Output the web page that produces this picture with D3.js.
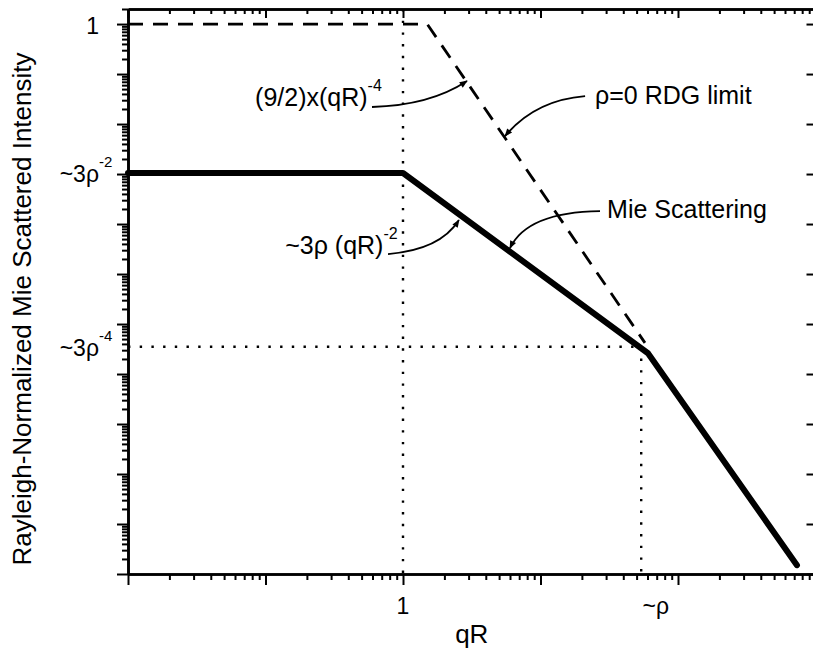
<!DOCTYPE html>
<html>
<head>
<meta charset="utf-8">
<script src="https://cdn.jsdelivr.net/npm/d3@7"></script>
<style>
  body { margin: 0; background: #fff; }
  text { font-family: Arial, "Liberation Sans", Helvetica, sans-serif; fill: #000; }
</style>
</head>
<body>
<div id="wrapper"></div>
<script>
// Mie scattering curve (solid) and the rho=0 RDG limit (dashed)
const mieQR = [0.01, 1, 60.5, 733];
const mieI = [1.05e-3, 1.05e-3, 2.6e-7, 1.5e-11];
const rdgQR = [0.01, 1.5, 57.5];
const rdgI = [1, 1, 4.2e-7];

// guide lines
const qrOne = 1;
const rhoQR = 54;
const rhoI = 3.5e-7;

// tick labels
const yTickVals = [1, 1.05e-3, 3.5e-7];
const yTickMain = ["1", "~3ρ", "~3ρ"];
const yTickSup = ["", "-2", "-4"];
const xTickVals = [1, 69];
const xTickText = ["1", "~ρ"];

// annotations (text anchor, in data units)
const annText = ["(9/2)x(qR)", "ρ=0 RDG limit", "Mie Scattering", "~3ρ (qR)"];
const annSup = ["-4", "", "", "-2"];
const annQR = [0.084, 24.9, 30.5, 0.139];
const annI = [0.0229, 0.0251, 1.32e-4, 2.5e-5];

// curved arrows: start, control, end (data units)
const arrowQR = [[0.595, 1.57, 2.92], [21.1, 9.12, 5.52], [27.1, 8.0, 6.0], [0.778, 1.86, 2.55]];
const arrowI = [[0.0219, 0.0235, 0.0724], [0.0363, 0.0302, 5.75e-3], [1.82e-4, 1.74e-4, 3.31e-5], [2.51e-5, 3.02e-5, 1.2e-4]];

let dimensions = {
	width: 813,
	height: 649,
	margin: { top: 9, right: -2.5, bottom: 75, left: 128 }
};

const plotLeft = dimensions.margin.left;
const plotRight = dimensions.width - dimensions.margin.right;
const plotTop = dimensions.margin.top;
const plotBottom = dimensions.height - dimensions.margin.bottom;

let svg = d3.select("#wrapper").append("svg")
	.attr("width", dimensions.width)
	.attr("height", dimensions.height)
	.style("display", "block");

let xScale = d3.scaleLog().domain([0.01, 1000]).range([plotLeft, plotRight]);
let yScale = d3.scaleLog().domain([1e-11, 2]).range([plotBottom, plotTop]);

const isDecade = v => Math.abs(Math.log10(v) - Math.round(Math.log10(v))) < 1e-9;
const xMajor = xScale.ticks(20).filter(isDecade);
const xMinor = xScale.ticks(20).filter(v => !isDecade(v));
const yMajor = yScale.ticks(20).filter(isDecade);
const yMinor = yScale.ticks(20).filter(v => !isDecade(v));

svg.append("defs").append("marker")
	.attr("id", "head")
	.attr("viewBox", "0 0 10 10")
	.attr("refX", 9).attr("refY", 5)
	.attr("markerWidth", 9).attr("markerHeight", 8)
	.attr("markerUnits", "userSpaceOnUse")
	.attr("orient", "auto")
	.append("path").attr("d", "M0,1 L10,5 L0,9 Z").attr("fill", "#000");

// guide lines (dotted)
const guides = [
	[[qrOne, 2], [qrOne, 1e-11]],
	[[0.01, rhoI], [rhoQR, rhoI]],
	[[rhoQR, rhoI], [rhoQR, 1e-11]]
];
const lineGen = d3.line().x(d => xScale(d[0])).y(d => yScale(d[1]));
svg.append("g").selectAll("path")
	.data(guides)
	.enter().append("path")
	.attr("d", lineGen)
	.attr("fill", "none")
	.attr("stroke", "#000")
	.attr("stroke-width", 2.4)
	.attr("stroke-dasharray", "2.4,9.3");

// RDG limit
svg.append("path")
	.datum(rdgQR.map((q, i) => [q, rdgI[i]]))
	.attr("d", lineGen)
	.attr("fill", "none")
	.attr("stroke", "#000")
	.attr("stroke-width", 2.8)
	.attr("stroke-dasharray", "15,10");

// Mie
svg.append("path")
	.datum(mieQR.map((q, i) => [q, mieI[i]]))
	.attr("d", lineGen)
	.attr("fill", "none")
	.attr("stroke", "#000")
	.attr("stroke-width", 6)
	.attr("stroke-linejoin", "round")
	.attr("stroke-linecap", "round");

// axes: majors and minors on each side
function styleAxis(g) {
	g.selectAll(".domain").attr("stroke-width", 2.6);
	g.selectAll(".tick line").attr("stroke-width", 2);
	g.selectAll(".tick text").remove();
}
function drawAxis(axisFn, scale, major, minor, bigSize, smallSize, transform) {
	svg.append("g").attr("transform", transform)
		.call(axisFn(scale).tickValues(major).tickSize(bigSize).tickSizeOuter(0).tickFormat(""))
		.call(styleAxis);
	svg.append("g").attr("transform", transform)
		.call(axisFn(scale).tickValues(minor).tickSize(smallSize).tickSizeOuter(0).tickFormat(""))
		.call(styleAxis);
}
drawAxis(d3.axisBottom, xScale, xMajor, xMinor, 11, 6, `translate(0,${plotBottom})`);
drawAxis(d3.axisTop, xScale, xMajor, xMinor, -9, -5, `translate(0,${plotTop})`);
drawAxis(d3.axisLeft, yScale, yMajor, yMinor, 11, 6, `translate(${plotLeft},0)`);
drawAxis(d3.axisRight, yScale, yMajor, yMinor, -9, -2, `translate(${plotRight},0)`);

// y tick labels
yTickVals.forEach((v, i) => {
	const t = svg.append("text")
		.attr("y", yScale(v) + 9.5)
		.style("font-size", "23px");
	const main = t.append("tspan").text(yTickMain[i]);
	if (yTickSup[i]) {
		t.append("tspan").attr("dy", -15).style("font-size", "15px").text(yTickSup[i]);
	}
	const w = main.node().getComputedTextLength();
	t.attr("x", 99 - w);
});

// x tick labels
svg.append("g").selectAll("text")
	.data(xTickVals)
	.enter().append("text")
	.attr("x", d => xScale(d))
	.attr("y", plotBottom + 40)
	.attr("text-anchor", "middle")
	.style("font-size", "23px")
	.text((d, i) => xTickText[i]);

// axis titles
svg.append("text")
	.attr("x", (plotLeft + plotRight) / 2)
	.attr("y", 643)
	.attr("text-anchor", "middle")
	.style("font-size", "26px")
	.text("qR");

svg.append("text")
	.attr("transform", "translate(31,309) rotate(-90)")
	.attr("text-anchor", "middle")
	.style("font-size", "26px")
	.text("Rayleigh-Normalized Mie Scattered Intensity");

// annotations
annText.forEach((s, i) => {
	const t = svg.append("text")
		.attr("x", xScale(annQR[i]))
		.attr("y", yScale(annI[i]))
		.style("font-size", "25px");
	t.append("tspan").text(s);
	if (annSup[i]) {
		t.append("tspan").attr("dy", -15).style("font-size", "16px").text(annSup[i]);
	}
});

svg.append("g").selectAll("path")
	.data(arrowQR.map((qs, i) => qs.map((q, j) => [xScale(q), yScale(arrowI[i][j])])))
	.enter().append("path")
	.attr("d", p => `M${p[0][0]},${p[0][1]} Q${p[1][0]},${p[1][1]} ${p[2][0]},${p[2][1]}`)
	.attr("fill", "none")
	.attr("stroke", "#000")
	.attr("stroke-width", 1.8)
	.attr("marker-end", "url(#head)");
</script>
</body>
</html>
